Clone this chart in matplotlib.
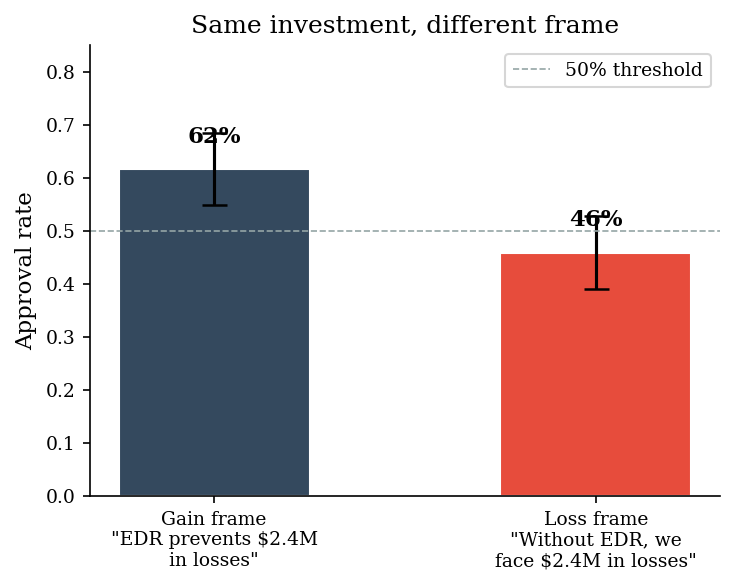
import matplotlib
matplotlib.use('Agg')
import matplotlib.pyplot as plt

plt.rcParams['font.family'] = 'DejaVu Serif'

frames = ['Gain frame\n"EDR prevents $2.4M\nin losses"',
          'Loss frame\n"Without EDR, we\nface $2.4M in losses"']
rates = [0.616, 0.459]
errs = [0.068, 0.068]
colors = ['#34495e', '#e74c3c']

fig, ax = plt.subplots(figsize=(4.9, 3.9), dpi=150)
x = range(len(frames))
ax.bar(x, rates, width=0.5, color=colors, edgecolor='white', linewidth=1,
       yerr=errs, capsize=6,
       error_kw={'elinewidth': 1.5, 'capthick': 1.2, 'ecolor': 'black'})
ax.axhline(0.5, color='#95a5a6', linestyle='--', linewidth=0.8, label='50% threshold')
for i, r in enumerate(rates):
    ax.text(i, r + 0.04, f'{r:.0%}', ha='center', va='bottom',
            fontsize=11, fontweight='bold')
ax.set_xticks(list(x))
ax.set_xticklabels(frames, fontsize=9)
ax.set_ylim(0, 0.85)
ax.tick_params(axis='y', labelsize=9)
ax.set_ylabel('Approval rate', fontsize=11)
ax.set_title('Same investment, different frame', fontsize=12)
ax.legend(fontsize=9, loc='upper right')
ax.spines['top'].set_visible(False)
ax.spines['right'].set_visible(False)
plt.subplots_adjust(left=0.1224, right=0.9796, top=0.923, bottom=0.152)
plt.savefig('out.png', dpi=150)
